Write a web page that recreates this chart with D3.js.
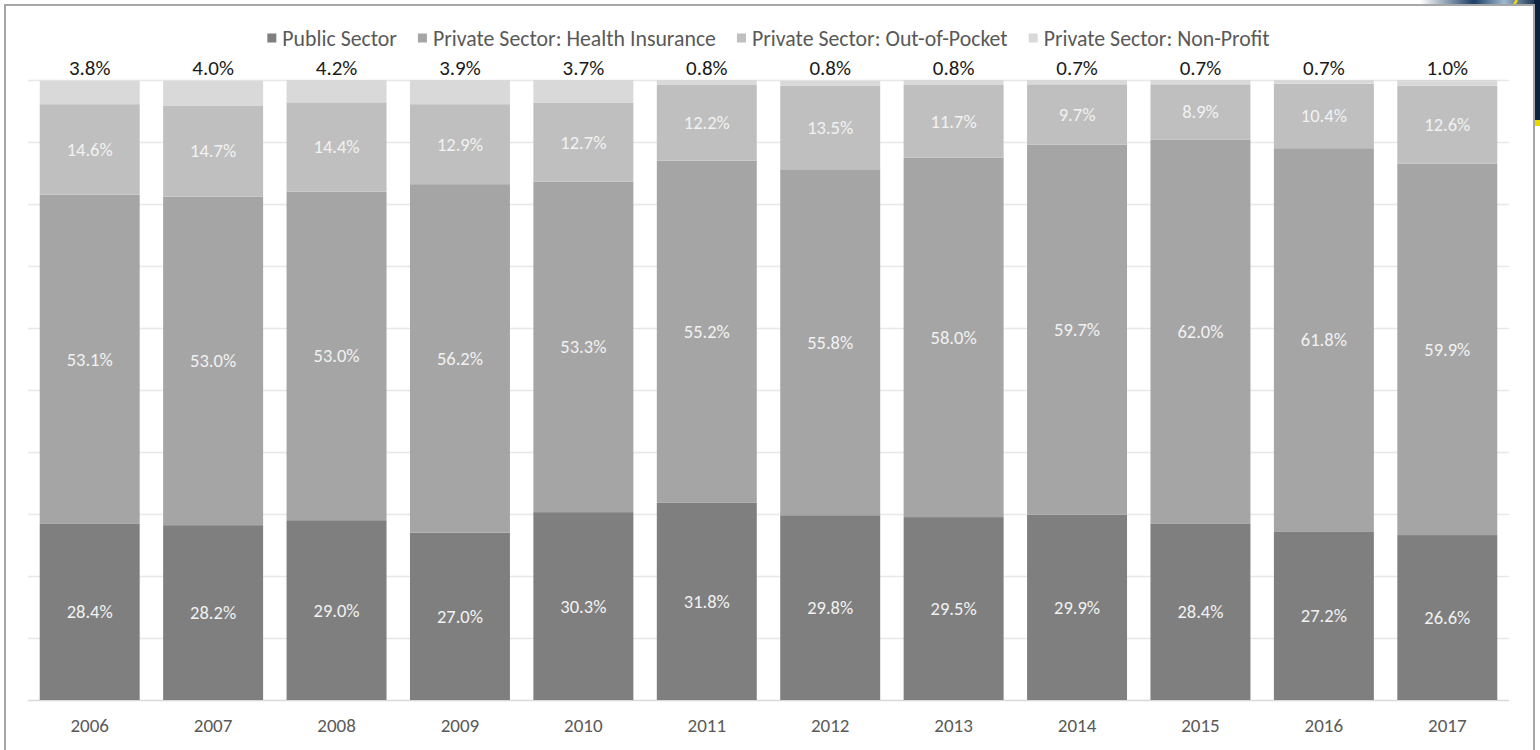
<!DOCTYPE html>
<html>
<head>
<meta charset="utf-8">
<script src="https://cdn.jsdelivr.net/npm/d3@7"></script>
<style>
  html, body { margin: 0; padding: 0; background: #fff; }
  svg { display: block; font-family: Carlito, Lato, "Open Sans", sans-serif; }
</style>
</head>
<body>
<svg id="chart" width="1540" height="750"></svg>
<script>
// Health expenditure shares by financing source, % of total
const years = ["2006", "2007", "2008", "2009", "2010", "2011", "2012", "2013", "2014", "2015", "2016", "2017"];
const publicSector    = [28.4, 28.2, 29.0, 27.0, 30.3, 31.8, 29.8, 29.5, 29.9, 28.4, 27.2, 26.6];
const healthInsurance = [53.1, 53.0, 53.0, 56.2, 53.3, 55.2, 55.8, 58.0, 59.7, 62.0, 61.8, 59.9];
const outOfPocket     = [14.6, 14.7, 14.4, 12.9, 12.7, 12.2, 13.5, 11.7, 9.7, 8.9, 10.4, 12.6];
const nonProfit       = [3.8, 4.0, 4.2, 3.9, 3.7, 0.8, 0.8, 0.8, 0.7, 0.7, 0.7, 1.0];

const seriesKeys  = ["pub", "ins", "oop", "npo"];
const seriesNames = ["Public Sector", "Private Sector: Health Insurance", "Private Sector: Out-of-Pocket", "Private Sector: Non-Profit"];
const seriesColors = ["#7f7f7f", "#a5a5a5", "#bfbfbf", "#d9d9d9"];
const gridTicks = [0, 10, 20, 30, 40, 50, 60, 70, 80, 90, 100];

const rows = years.map((yr, i) => ({
  year: yr, pub: publicSector[i], ins: healthInsurance[i], oop: outOfPocket[i], npo: nonProfit[i]
}));

const svg = d3.select("#chart");
const plot = { left: 28, right: 1509, top: 80, bottom: 700 };

// slide background corner peeking out at the top right
const defs = svg.append("defs");
const grad = defs.append("linearGradient").attr("id", "navy").attr("x1", "0").attr("x2", "1");
grad.append("stop").attr("offset", "0").attr("stop-color", "#ffffff");
grad.append("stop").attr("offset", "0.45").attr("stop-color", "#1d3f66");
grad.append("stop").attr("offset", "0.7").attr("stop-color", "#9fb8cf");
grad.append("stop").attr("offset", "1").attr("stop-color", "#0b2240");
svg.append("rect").attr("x", 1420).attr("y", 0).attr("width", 120).attr("height", 6).attr("fill", "url(#navy)");
svg.append("rect").attr("x", 1534).attr("y", 0).attr("width", 6).attr("height", 122).attr("fill", "#0b2240");
svg.append("rect").attr("x", 1535).attr("y", 120).attr("width", 5).attr("height", 6).attr("fill", "#e8d800");
svg.append("path").attr("d", "M1517,0 Q1512,6 1514,12").attr("fill", "none").attr("stroke", "#f2dc00").attr("stroke-width", 2.5);

// chart frame
svg.append("rect").attr("x", 5).attr("y", 5).attr("width", 1529).attr("height", 800)
  .attr("fill", "#fff").attr("stroke", "#a6a6a6").attr("stroke-width", 2);

const x = d3.scaleBand().domain(years).range([plot.left, plot.right])
  .paddingInner(0.19).paddingOuter(0.095);
const y = d3.scaleLinear().domain([0, 100]).range([plot.bottom, plot.top]);

// horizontal gridlines
const grid = svg.append("g").attr("transform", `translate(${plot.left},0)`)
  .call(d3.axisLeft(y).tickValues(gridTicks).tickSize(-(plot.right - plot.left)).tickFormat(""));
grid.select(".domain").remove();
grid.selectAll(".tick line").attr("stroke", "#e8e8e8").attr("stroke-width", 1.5);
grid.selectAll(".tick").filter(d => d === 0).select("line").attr("stroke", "#d9d9d9");

// stacked bars
const stacked = d3.stack().keys(seriesKeys)(rows);
defs.append("clipPath").attr("id", "plotClip").append("rect")
  .attr("x", plot.left).attr("y", plot.top).attr("width", plot.right - plot.left).attr("height", plot.bottom - plot.top);

const barLayer = svg.append("g").attr("clip-path", "url(#plotClip)");
barLayer.selectAll("g.series").data(stacked).join("g")
  .attr("class", "series")
  .attr("fill", (d, i) => seriesColors[i])
  .selectAll("rect").data(d => d).join("rect")
  .attr("x", d => x(d.data.year))
  .attr("width", x.bandwidth())
  .attr("y", d => y(d[1]))
  .attr("height", d => y(d[0]) - y(d[1]));

// in-bar labels for the first three series
const labelLayer = svg.append("g");
stacked.slice(0, 3).forEach(s => {
  labelLayer.selectAll(null).data(s).join("text")
    .attr("x", d => x(d.data.year) + x.bandwidth() / 2)
    .attr("y", d => (y(d[0]) + y(d[1])) / 2)
    .attr("dy", "0.35em")
    .attr("text-anchor", "middle")
    .attr("fill", "#f2f2f2")
    .style("font-size", "18.5px")
    .text(d => (d[1] - d[0]).toFixed(1) + "%");
});

// non-profit share written above each bar
labelLayer.selectAll(null).data(rows).join("text")
  .attr("x", d => x(d.year) + x.bandwidth() / 2)
  .attr("y", plot.top - 12)
  .attr("dy", "0.35em")
  .attr("text-anchor", "middle")
  .attr("fill", "#1a1a1a")
  .style("font-size", "21px")
  .text(d => d.npo.toFixed(1) + "%");

// category axis
const xAxis = svg.append("g").attr("transform", `translate(0,${plot.bottom})`)
  .call(d3.axisBottom(x).tickSize(0));
xAxis.select(".domain").remove();
xAxis.selectAll("text")
  .attr("y", 25).attr("dy", "0.35em")
  .attr("fill", "#595959")
  .style("font-size", "19px")
  .style("font-family", "Carlito, Lato, 'Open Sans', sans-serif");

// legend, centred over the plot
const legend = svg.append("g");
const items = legend.selectAll("g").data(seriesNames).join("g");
items.append("rect").attr("width", 9).attr("height", 9).attr("y", -4.5)
  .attr("fill", (d, i) => seriesColors[i]);
items.append("text").attr("x", 15).attr("dy", "0.35em")
  .attr("fill", "#595959").style("font-size", "21.8px").text(d => d);
let cursor = 0;
const offsets = [];
items.each(function () {
  offsets.push(cursor);
  const w = 15 + d3.select(this).select("text").node().getComputedTextLength();
  cursor += w + 21;
});
const legendWidth = cursor - 21;
const legendX = (plot.left + plot.right) / 2 - legendWidth / 2;
items.attr("transform", (d, i) => `translate(${legendX + offsets[i]},38)`);
</script>
</body>
</html>
